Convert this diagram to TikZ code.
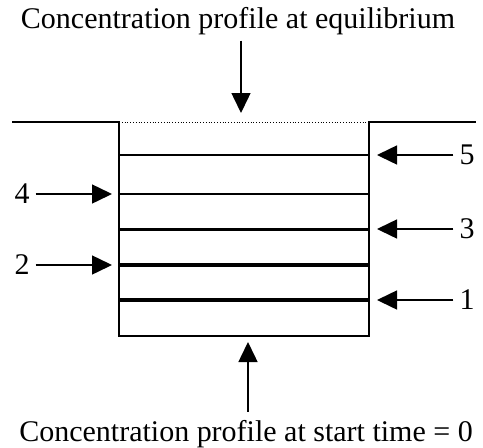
\documentclass[tikz,border=0pt]{standalone}
\usepackage{fontspec}
\setmainfont{Liberation Serif}
\usetikzlibrary{arrows.meta,positioning}
\tikzstyle{caption} = [inner sep=0pt, font=\fontsize{30}{36}\selectfont]
\tikzstyle{num} = [inner sep=6pt, font=\fontsize{30}{36}\selectfont]
\tikzstyle{wall} = [line width=2pt]

\begin{document}
\begin{tikzpicture}[x=1pt, y=-1pt, >={Triangle[length=20pt,width=19pt]}]
	\useasboundingbox (0,0) rectangle (483,448);
	% vessel outline
	\coordinate (TL) at (119,122);
	\coordinate (TR) at (369,122);
	\coordinate (BL) at (119,336);
	\coordinate (BR) at (369,336);
	\coordinate (GL) at (12,122);
	\coordinate (GR) at (476,122);
	\draw [wall] (GL) -- (TL) -- (BL) -- (BR) -- (TR) -- (GR);
	\draw [line width=0.8pt, dotted] (TL) -- (TR);
	
	% profiles
	\coordinate (P5) at (119,155);
	\coordinate (P4) at (119,194);
	\coordinate (P3) at (119,229);
	\coordinate (P2) at (119,265);
	\coordinate (P1) at (119,300);
	\draw [line width=1.6pt] (P5) -- (P5 -| TR);
	\draw [line width=2.2pt] (P4) -- (P4 -| TR);
	\draw [line width=3pt] (P3) -- (P3 -| TR);
	\draw [line width=3.5pt] (P2) -- (P2 -| TR);
	\draw [line width=4pt] (P1) -- (P1 -| TR);
	
	% labels
	\node [caption, anchor=base] (Equilibrium) at (238,28) {Concentration profile at equilibrium};
	\node [caption, anchor=base] (Start) at (246,441) {Concentration profile at start time = 0};
	\node [num] (L5) at (467,155) {5};
	\node [num] (L4) at (22,194) {4};
	\node [num] (L3) at (467,229) {3};
	\node [num] (L2) at (22,265) {2};
	\node [num] (L1) at (467,300) {1};
	
	\coordinate (EqTip) at (241,113);
	\coordinate (StTip) at (248,342);
	\draw [->, line width=1.5pt] (EqTip |- Equilibrium.south) ++(0,6) -- (EqTip);
	\draw [->, line width=1.5pt] (StTip |- Start.north) ++(0,-8) -- (StTip);
	\draw [->, line width=1.5pt, shorten >=8pt] (L5) -- (P5 -| TR);
	\draw [->, line width=1.5pt, shorten >=7pt] (L4) -- (P4);
	\draw [->, line width=1.5pt, shorten >=8pt] (L3) -- (P3 -| TR);
	\draw [->, line width=1.5pt, shorten >=7pt] (L2) -- (P2);
	\draw [->, line width=1.5pt, shorten >=8pt] (L1) -- (P1 -| TR);
\end{tikzpicture}
\end{document}
